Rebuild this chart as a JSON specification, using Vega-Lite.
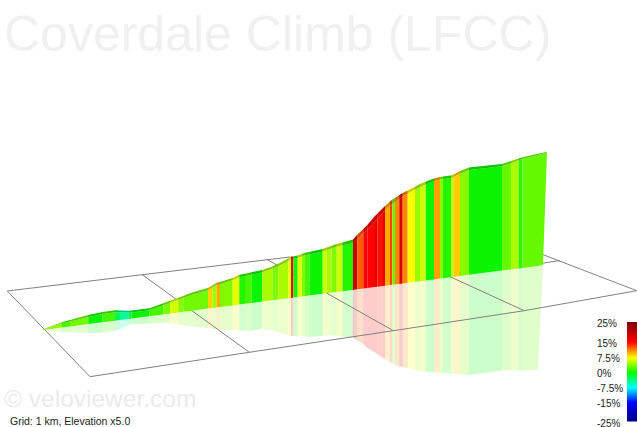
{"$schema":"https://vega.github.io/schema/vega-lite/v6.json","width":637,"height":427,"padding":0,"autosize":{"type":"none"},"background":"white","config":{"view":{"stroke":null}},
"datasets":{"ribbon":[
{"seg":1,"d":43,"back":329.5,"top":330,"base":330,"refl":330.5,"grade":4.3},{"seg":1,"d":61.7,"back":322.2,"top":323,"base":327.6,"refl":331.7,"grade":4.3},
{"seg":2,"d":61.7,"back":322.2,"top":323,"base":327.6,"refl":331.7,"grade":2},{"seg":2,"d":70,"back":320,"top":321.5,"base":326.5,"refl":332.3,"grade":2},
{"seg":3,"d":70,"back":320,"top":321.5,"base":326.5,"refl":332.3,"grade":3.3},{"seg":3,"d":88.3,"back":315,"top":317,"base":324.1,"refl":333.3,"grade":3.3},
{"seg":4,"d":88.3,"back":315,"top":317,"base":324.1,"refl":333.3,"grade":0.3},{"seg":4,"d":102.7,"back":312,"top":314,"base":322.3,"refl":332.5,"grade":0.3},
{"seg":5,"d":102.7,"back":312,"top":314,"base":322.3,"refl":332.5,"grade":2},{"seg":5,"d":115,"back":310.3,"top":312.2,"base":320.7,"refl":331,"grade":2},
{"seg":6,"d":115,"back":310.3,"top":312.2,"base":320.7,"refl":331,"grade":-2.5},{"seg":6,"d":120,"back":310.4,"top":312.3,"base":320,"refl":329,"grade":-2.5},
{"seg":7,"d":120,"back":310.4,"top":312.3,"base":320,"refl":329,"grade":-4.5},{"seg":7,"d":128.3,"back":310.7,"top":312.6,"base":319,"refl":325.5,"grade":-4.5},
{"seg":8,"d":128.3,"back":310.7,"top":312.6,"base":319,"refl":325.5,"grade":-2.5},{"seg":8,"d":131.7,"back":310.5,"top":312.5,"base":318.5,"refl":324.3,"grade":-2.5},
{"seg":9,"d":131.7,"back":310.5,"top":312.5,"base":318.5,"refl":324.3,"grade":0.3},{"seg":9,"d":149.3,"back":308.3,"top":310.3,"base":316.2,"refl":323.5,"grade":0.3},
{"seg":10,"d":149.3,"back":308.3,"top":310.3,"base":316.2,"refl":323.5,"grade":2},{"seg":10,"d":163.3,"back":303.3,"top":305.3,"base":314.4,"refl":322.7,"grade":2},
{"seg":11,"d":163.3,"back":303.3,"top":305.3,"base":314.4,"refl":322.7,"grade":3.5},{"seg":11,"d":170,"back":300.8,"top":302.8,"base":313.6,"refl":323.2,"grade":3.5},
{"seg":12,"d":170,"back":300.8,"top":302.8,"base":313.6,"refl":323.2,"grade":6.2},{"seg":12,"d":178.3,"back":297.7,"top":299.7,"base":312.5,"refl":324.3,"grade":6.2},
{"seg":13,"d":178.3,"back":297.7,"top":299.7,"base":312.5,"refl":324.3,"grade":4},{"seg":13,"d":183.3,"back":295.9,"top":297.9,"base":311.8,"refl":325,"grade":4},
{"seg":14,"d":183.3,"back":295.9,"top":297.9,"base":311.8,"refl":325,"grade":3.3},{"seg":14,"d":190,"back":293.3,"top":295.3,"base":310.9,"refl":326,"grade":3.3},{"seg":14,"d":208,"back":288,"top":290,"base":308.6,"refl":328.2,"grade":3.3},
{"seg":15,"d":208,"back":288,"top":290,"base":308.6,"refl":328.2,"grade":8.8},{"seg":15,"d":212.3,"back":285.5,"top":287.5,"base":308.1,"refl":328.8,"grade":8.8},
{"seg":16,"d":212.3,"back":285.5,"top":287.5,"base":308.1,"refl":328.8,"grade":4.7},{"seg":16,"d":216.7,"back":282.7,"top":285,"base":307.5,"refl":329.3,"grade":4.7},
{"seg":17,"d":216.7,"back":282.7,"top":285,"base":307.5,"refl":329.3,"grade":10},{"seg":17,"d":220,"back":282,"top":284.2,"base":307.1,"refl":329.7,"grade":10},
{"seg":18,"d":220,"back":282,"top":284.2,"base":307.1,"refl":329.7,"grade":3.8},{"seg":18,"d":232.7,"back":277.9,"top":280,"base":305.4,"refl":330.2,"grade":3.8},
{"seg":19,"d":232.7,"back":277.9,"top":280,"base":305.4,"refl":330.2,"grade":6.8},{"seg":19,"d":239.3,"back":274.8,"top":277,"base":304.6,"refl":330.4,"grade":6.8},
{"seg":20,"d":239.3,"back":274.8,"top":277,"base":304.6,"refl":330.4,"grade":1},{"seg":20,"d":245,"back":273.7,"top":276,"base":303.8,"refl":330.5,"grade":1},
{"seg":21,"d":245,"back":273.7,"top":276,"base":303.8,"refl":330.5,"grade":2},{"seg":21,"d":251.7,"back":272.3,"top":274.7,"base":303,"refl":330.7,"grade":2},
{"seg":22,"d":251.7,"back":272.3,"top":274.7,"base":303,"refl":330.7,"grade":0.3},{"seg":22,"d":262.3,"back":269.9,"top":272.2,"base":301.6,"refl":328.5,"grade":0.3},
{"seg":23,"d":262.3,"back":269.9,"top":272.2,"base":301.6,"refl":328.5,"grade":5},{"seg":23,"d":272.3,"back":266.4,"top":268.8,"base":300.3,"refl":330.5,"grade":5},
{"seg":24,"d":272.3,"back":266.4,"top":268.8,"base":300.3,"refl":330.5,"grade":3.8},{"seg":24,"d":278.3,"back":263.8,"top":266.2,"base":299.5,"refl":332,"grade":3.8},
{"seg":25,"d":278.3,"back":263.8,"top":266.2,"base":299.5,"refl":332,"grade":5},{"seg":25,"d":288.3,"back":258.4,"top":261,"base":298.2,"refl":335.5,"grade":5},
{"seg":26,"d":288.3,"back":258.4,"top":261,"base":298.2,"refl":335.5,"grade":7},{"seg":26,"d":291,"back":256.6,"top":259,"base":297.9,"refl":336,"grade":7},
{"seg":27,"d":291,"back":256.6,"top":259,"base":297.9,"refl":336,"grade":15.5},{"seg":27,"d":293.3,"back":256.4,"top":258.8,"base":297.6,"refl":336,"grade":15.5},
{"seg":28,"d":293.3,"back":256.4,"top":258.8,"base":297.6,"refl":336,"grade":0.5},{"seg":28,"d":297.7,"back":255.6,"top":258,"base":297,"refl":336.2,"grade":0.5},
{"seg":29,"d":297.7,"back":255.6,"top":258,"base":297,"refl":336.2,"grade":6.5},{"seg":29,"d":301.7,"back":254,"top":256.5,"base":296.5,"refl":336.3,"grade":6.5},
{"seg":30,"d":301.7,"back":254,"top":256.5,"base":296.5,"refl":336.3,"grade":3.8},{"seg":30,"d":305,"back":252.7,"top":255.2,"base":296.1,"refl":336.4,"grade":3.8},
{"seg":31,"d":305,"back":252.7,"top":255.2,"base":296.1,"refl":336.4,"grade":2},{"seg":31,"d":309.3,"back":251.9,"top":254.4,"base":295.5,"refl":336.7,"grade":2},
{"seg":32,"d":309.3,"back":251.9,"top":254.4,"base":295.5,"refl":336.7,"grade":0.3},{"seg":32,"d":322.7,"back":249,"top":251.5,"base":293.8,"refl":336,"grade":0.3},
{"seg":33,"d":322.7,"back":249,"top":251.5,"base":293.8,"refl":336,"grade":6},{"seg":33,"d":326.7,"back":247.6,"top":250.2,"base":293.3,"refl":335,"grade":6},
{"seg":34,"d":326.7,"back":247.6,"top":250.2,"base":293.3,"refl":335,"grade":5},{"seg":34,"d":331.7,"back":245.8,"top":248.5,"base":292.6,"refl":335.3,"grade":5},
{"seg":35,"d":331.7,"back":245.8,"top":248.5,"base":292.6,"refl":335.3,"grade":3.8},{"seg":35,"d":336.7,"back":244,"top":246.8,"base":292,"refl":335.6,"grade":3.8},
{"seg":36,"d":336.7,"back":244,"top":246.8,"base":292,"refl":335.6,"grade":6},{"seg":36,"d":342.5,"back":242.4,"top":245.3,"base":291.2,"refl":336.5,"grade":6},
{"seg":37,"d":342.5,"back":242.4,"top":245.3,"base":291.2,"refl":336.5,"grade":1},{"seg":37,"d":353,"back":239.5,"top":243,"base":289.9,"refl":337.5,"grade":1},
{"seg":38,"d":353,"back":239.5,"top":243,"base":289.9,"refl":337.5,"grade":19},{"seg":38,"d":357.3,"back":234.7,"top":239,"base":289.3,"refl":340.5,"grade":19},
{"seg":39,"d":357.3,"back":234.7,"top":239,"base":289.3,"refl":340.5,"grade":12.3},{"seg":39,"d":363.3,"back":229,"top":233,"base":288.5,"refl":344.5,"grade":12.3},
{"seg":40,"d":363.3,"back":229,"top":233,"base":288.5,"refl":344.5,"grade":15.5},{"seg":40,"d":367.3,"back":225,"top":230,"base":288,"refl":348,"grade":15.5},
{"seg":41,"d":367.3,"back":225,"top":230,"base":288,"refl":348,"grade":15},{"seg":41,"d":375,"back":216,"top":221,"base":287,"refl":352.5,"grade":15},
{"seg":42,"d":375,"back":216,"top":221,"base":287,"refl":352.5,"grade":17},{"seg":42,"d":377.3,"back":213.7,"top":218.5,"base":286.7,"refl":354,"grade":17},
{"seg":43,"d":377.3,"back":213.7,"top":218.5,"base":286.7,"refl":354,"grade":14.5},{"seg":43,"d":383,"back":208,"top":212.5,"base":286,"refl":358,"grade":14.5},
{"seg":44,"d":383,"back":208,"top":212.5,"base":286,"refl":358,"grade":17},{"seg":44,"d":385,"back":206,"top":210,"base":285.7,"refl":359,"grade":17},
{"seg":45,"d":385,"back":206,"top":210,"base":285.7,"refl":359,"grade":10},{"seg":45,"d":390,"back":201.5,"top":205.5,"base":285.1,"refl":362,"grade":10},
{"seg":46,"d":390,"back":201.5,"top":205.5,"base":285.1,"refl":362,"grade":13},{"seg":46,"d":392.3,"back":199.8,"top":203.8,"base":284.8,"refl":363,"grade":13},
{"seg":47,"d":392.3,"back":199.8,"top":203.8,"base":284.8,"refl":363,"grade":3},{"seg":47,"d":395,"back":198,"top":202,"base":284.4,"refl":364.5,"grade":3},
{"seg":48,"d":395,"back":198,"top":202,"base":284.4,"refl":364.5,"grade":11},{"seg":48,"d":399.3,"back":195,"top":198.8,"base":283.9,"refl":366.5,"grade":11},
{"seg":49,"d":399.3,"back":195,"top":198.8,"base":283.9,"refl":366.5,"grade":18},{"seg":49,"d":402.7,"back":192.9,"top":196.2,"base":283.4,"refl":367,"grade":18},
{"seg":50,"d":402.7,"back":192.9,"top":196.2,"base":283.4,"refl":367,"grade":11},{"seg":50,"d":407.7,"back":190.6,"top":193.5,"base":282.8,"refl":368,"grade":11},
{"seg":51,"d":407.7,"back":190.6,"top":193.5,"base":282.8,"refl":368,"grade":7.5},{"seg":51,"d":415,"back":186.7,"top":189.5,"base":281.8,"refl":370,"grade":7.5},
{"seg":52,"d":415,"back":186.7,"top":189.5,"base":281.8,"refl":370,"grade":4.5},{"seg":52,"d":420,"back":184.1,"top":186.9,"base":281.2,"refl":371,"grade":4.5},
{"seg":53,"d":420,"back":184.1,"top":186.9,"base":281.2,"refl":371,"grade":6},{"seg":53,"d":425.7,"back":181.8,"top":184.5,"base":280.4,"refl":371.7,"grade":6},
{"seg":54,"d":425.7,"back":181.8,"top":184.5,"base":280.4,"refl":371.7,"grade":0.3},{"seg":54,"d":434,"back":178.4,"top":181,"base":279.4,"refl":372.3,"grade":0.3},
{"seg":55,"d":434,"back":178.4,"top":181,"base":279.4,"refl":372.3,"grade":10.3},{"seg":55,"d":440,"back":176.9,"top":179.5,"base":278.6,"refl":372.7,"grade":10.3},
{"seg":56,"d":440,"back":176.9,"top":179.5,"base":278.6,"refl":372.7,"grade":4},{"seg":56,"d":443,"back":176.5,"top":179,"base":278.2,"refl":373,"grade":4},
{"seg":57,"d":443,"back":176.5,"top":179,"base":278.2,"refl":373,"grade":1},{"seg":57,"d":451,"back":175.4,"top":178,"base":277.2,"refl":373.5,"grade":1},
{"seg":58,"d":451,"back":175.4,"top":178,"base":277.2,"refl":373.5,"grade":5.5},{"seg":58,"d":453.5,"back":174.4,"top":177,"base":276.8,"refl":374,"grade":5.5},
{"seg":59,"d":453.5,"back":174.4,"top":177,"base":276.8,"refl":374,"grade":9},{"seg":59,"d":460,"back":171.1,"top":173.7,"base":276,"refl":374.5,"grade":9},
{"seg":60,"d":460,"back":171.1,"top":173.7,"base":276,"refl":374.5,"grade":4},{"seg":60,"d":469,"back":167.5,"top":170,"base":274.8,"refl":375,"grade":4},
{"seg":61,"d":469,"back":167.5,"top":170,"base":274.8,"refl":375,"grade":0.3},{"seg":61,"d":502,"back":164,"top":166.2,"base":270.6,"refl":370.5,"grade":0.3},
{"seg":62,"d":502,"back":164,"top":166.2,"base":270.6,"refl":370.5,"grade":3},{"seg":62,"d":511,"back":161.1,"top":163.2,"base":269.4,"refl":370.5,"grade":3},
{"seg":63,"d":511,"back":161.1,"top":163.2,"base":269.4,"refl":370.5,"grade":5},{"seg":63,"d":518.5,"back":158.5,"top":160.3,"base":268.4,"refl":370.5,"grade":5},
{"seg":64,"d":518.5,"back":158.5,"top":160.3,"base":268.4,"refl":370.5,"grade":1.5},{"seg":64,"d":522.7,"back":157.2,"top":158.8,"base":267.9,"refl":370.5,"grade":1.5},
{"seg":65,"d":522.7,"back":157.2,"top":158.8,"base":267.9,"refl":370.5,"grade":3},{"seg":65,"d":538,"back":153.8,"top":155,"base":265.9,"refl":370.3,"grade":3},{"seg":65,"d":543,"back":152.7,"top":153.7,"base":264.8,"refl":264.8,"grade":3},{"seg":65,"d":547,"back":151.7,"top":152.3,"base":152.3,"refl":152.3,"grade":3}
],
"grid":[
{"x":7.3,"y":291,"x2":142.3,"y2":274.7},{"x":142.3,"y":274.7,"x2":290,"y2":257},
{"x":7.3,"y":291,"x2":90,"y2":376.7},{"x":90,"y":376.7,"x2":249.3,"y2":352.3},{"x":249.3,"y":352.3,"x2":393.3,"y2":330.7},{"x":393.3,"y":330.7,"x2":524.3,"y2":310.7},{"x":524.3,"y":310.7,"x2":636.7,"y2":290.7},
{"x":142.3,"y":274.7,"x2":249.3,"y2":352.3},{"x":266.7,"y":259.3,"x2":393.3,"y2":330.7},{"x":440,"y":272.1,"x2":524.3,"y2":310.7},{"x":540,"y":253.5,"x2":636.7,"y2":290.7},{"x":540,"y":263.6,"x2":560,"y2":260.5}
],
"labels":[
{"x":597,"y":324,"label":"25%"},{"x":597,"y":343.5,"label":"15%"},{"x":597,"y":358.5,"label":"7.5%"},{"x":597,"y":373.5,"label":"0%"},{"x":597,"y":388.5,"label":"-7.5%"},{"x":597,"y":404,"label":"-15%"},{"x":597,"y":423.5,"label":"-25%"}
]},
"layer":[
{"data":{"name":"ribbon"},"mark":{"type":"area","opacity":0.2,"interpolate":"linear"},"encoding":{"x":{"field":"d","type":"quantitative","scale":{"domain":[0,637],"nice":false},"axis":null},"y":{"field":"base","type":"quantitative","stack":null,"scale":{"domain":[427,0],"nice":false},"axis":null},"y2":{"field":"refl"},"detail":{"field":"seg"},"color":{"field":"grade","type":"quantitative","legend":null,"scale":{"domain":[-25,-15,-7.5,0,7.5,15,25],"range":["#000080","#0000ff","#00ffff","#00f400","#ffff00","#ff0000","#800000"],"interpolate":"rgb"}}}},
{"data":{"name":"grid"},"mark":{"type":"rule","color":"#808080","strokeWidth":1},"encoding":{"x":{"field":"x","type":"quantitative","scale":{"domain":[0,637],"nice":false},"axis":null},"y":{"field":"y","type":"quantitative","scale":{"domain":[427,0],"nice":false},"axis":null},"x2":{"field":"x2"},"y2":{"field":"y2"}}},
{"data":{"name":"ribbon"},"mark":{"type":"area"},"encoding":{"x":{"field":"d","type":"quantitative","scale":{"domain":[0,637],"nice":false},"axis":null},"y":{"field":"top","type":"quantitative","stack":null,"scale":{"domain":[427,0],"nice":false},"axis":null},"y2":{"field":"base"},"detail":{"field":"seg"},"color":{"field":"grade","type":"quantitative","legend":null,"scale":{"domain":[-25,-15,-7.5,0,7.5,15,25],"range":["#000080","#0000ff","#00ffff","#00f400","#ffff00","#ff0000","#800000"],"interpolate":"rgb"}}}},
{"data":{"name":"ribbon"},"mark":{"type":"area"},"encoding":{"x":{"field":"d","type":"quantitative","scale":{"domain":[0,637],"nice":false},"axis":null},"y":{"field":"back","type":"quantitative","stack":null,"scale":{"domain":[427,0],"nice":false},"axis":null},"y2":{"field":"top"},"detail":{"field":"seg"},"color":{"field":"grade","type":"quantitative","legend":null,"scale":{"domain":[-25,-15,-7.5,0,7.5,15,25],"range":["#000080","#0000ff","#00ffff","#00f400","#ffff00","#ff0000","#800000"],"interpolate":"rgb"}}}},
{"data":{"name":"ribbon"},"mark":{"type":"area","color":"#000000","opacity":0.2},"encoding":{"x":{"field":"d","type":"quantitative","scale":{"domain":[0,637],"nice":false},"axis":null},"y":{"field":"back","type":"quantitative","stack":null,"scale":{"domain":[427,0],"nice":false},"axis":null},"y2":{"field":"top"},"detail":{"field":"seg"}}},
{"data":{"values":[{"x":627,"x2":637,"y":322,"y2":421.5}]},"mark":{"type":"rect","color":{"gradient":"linear","x1":0,"y1":0,"x2":0,"y2":1,"stops":[{"offset":0,"color":"#800000"},{"offset":0.2,"color":"#ff0000"},{"offset":0.36,"color":"#ffff00"},{"offset":0.51,"color":"#00ff00"},{"offset":0.66,"color":"#00ffff"},{"offset":0.81,"color":"#0000ff"},{"offset":1,"color":"#000080"}]}},"encoding":{"x":{"field":"x","type":"quantitative","scale":{"domain":[0,637],"nice":false},"axis":null},"x2":{"field":"x2"},"y":{"field":"y","type":"quantitative","scale":{"domain":[427,0],"nice":false},"axis":null},"y2":{"field":"y2"}}},
{"data":{"name":"labels"},"mark":{"type":"text","font":"Liberation Sans","fontSize":10,"align":"left","baseline":"middle","color":"#222222"},"encoding":{"x":{"field":"x","type":"quantitative","scale":{"domain":[0,637],"nice":false},"axis":null},"y":{"field":"y","type":"quantitative","scale":{"domain":[427,0],"nice":false},"axis":null},"text":{"field":"label"}}},
{"data":{"values":[{"x":4,"y":51,"label":"Coverdale Climb (LFCC)"}]},"mark":{"type":"text","font":"Liberation Sans","fontSize":50,"align":"left","baseline":"alphabetic","color":"#f0f0f0"},"encoding":{"x":{"field":"x","type":"quantitative","scale":{"domain":[0,637],"nice":false},"axis":null},"y":{"field":"y","type":"quantitative","scale":{"domain":[427,0],"nice":false},"axis":null},"text":{"field":"label"}}},
{"data":{"values":[{"x":4,"y":407,"label":"© veloviewer.com"}]},"mark":{"type":"text","font":"Liberation Sans","fontSize":24.5,"align":"left","baseline":"alphabetic","color":"#ebebeb"},"encoding":{"x":{"field":"x","type":"quantitative","scale":{"domain":[0,637],"nice":false},"axis":null},"y":{"field":"y","type":"quantitative","scale":{"domain":[427,0],"nice":false},"axis":null},"text":{"field":"label"}}},
{"data":{"values":[{"x":10,"y":425,"label":"Grid: 1 km, Elevation x5.0"}]},"mark":{"type":"text","font":"Liberation Sans","fontSize":10.5,"align":"left","baseline":"alphabetic","color":"#222222"},"encoding":{"x":{"field":"x","type":"quantitative","scale":{"domain":[0,637],"nice":false},"axis":null},"y":{"field":"y","type":"quantitative","scale":{"domain":[427,0],"nice":false},"axis":null},"text":{"field":"label"}}}
]}
